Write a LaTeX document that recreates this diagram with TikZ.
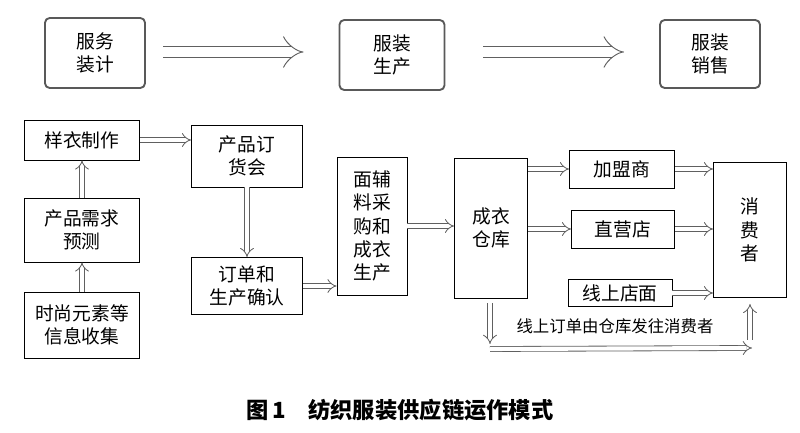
\documentclass[tikz,border=0pt]{standalone}
\usepackage{fontspec}
\setmainfont{Noto Sans CJK SC}
\usetikzlibrary{arrows,arrows.meta,calc}
\tikzset{
  box/.style={draw, line width=0.6pt, align=center, inner sep=0pt,
    font=\fontsize{16}{20}\selectfont},
  topbox/.style={draw=gray!70!black, line width=1.6pt, rounded corners=4pt,
    align=center, inner sep=0pt, font=\fontsize{16}{20}\selectfont},
  harrow/.style={-{Implies}, draw=gray!75!black, line width=0.7pt,
    double=white, double distance=3.5pt},
  bigarrow/.style={-{Implies}, draw=gray!75!black, line width=0.8pt,
    double=white, double distance=9pt}
}
\begin{document}
\begin{tikzpicture}[x=0.03cm,y=-0.03cm]
  \useasboundingbox (0,0) rectangle (800,433);
  % top row
  \node[topbox, minimum width=3cm, minimum height=2.1cm] (sj) at (95,53) {服务\\装计};
  \node[topbox, minimum width=3.15cm, minimum height=2.1cm] (sc) at (392,55) {服装\\生产};
  \node[topbox, minimum width=3cm, minimum height=2.04cm] (xs) at (710,54) {服装\\销售};
  \coordinate (a1) at (163,52);
  \coordinate (a2) at (483,52);
  \draw[bigarrow] (a1) -- ($(sc.west)+(-35,-3)$);
  \draw[bigarrow] (a2) -- ($(xs.west)+(-35,-2)$);
  % left column
  \node[box, minimum width=3.45cm, minimum height=1.2cm] (yy) at (82,140) {样衣制作};
  \node[box, minimum width=3.45cm, minimum height=1.92cm] (xq) at (82,230) {产品需求\\预测};
  \node[box, minimum width=3.45cm, minimum height=1.98cm] (ss) at (82,325) {时尚元素等\\信息收集};
  % middle
  \node[box, minimum width=3.33cm, minimum height=1.86cm] (dh) at (247,156) {产品订\\货会};
  \node[box, minimum width=3.33cm, minimum height=1.71cm] (dd) at (247,286) {订单和\\生产确认};
  \node[box, minimum width=2.1cm, minimum height=4.14cm] (mf) at (372,226) {面辅\\料采\\购和\\成衣\\生产};
  \node[box, minimum width=2.19cm, minimum height=4.2cm] (ck) at (491,228) {成衣\\仓库};
  % right
  \node[box, minimum width=3.15cm, minimum height=1.14cm] (jm) at (622,169) {加盟商};
  \node[box, minimum width=3.09cm, minimum height=1.14cm] (zy) at (623,229) {直营店};
  \node[box, minimum width=3.12cm, minimum height=0.81cm] (xd) at (620,293) {线上店面};
  \node[box, minimum width=2.19cm, minimum height=4.05cm] (xf) at (750,230) {消\\费\\者};
  % connectors
  \draw[harrow] (ss.north) -- (xq.south);
  \draw[harrow] (xq.north) -- (yy.south);
  \draw[harrow] (yy.east) -- (yy.east -| dh.west);
  \draw[harrow] (dh.south) -- (dd.north);
  \draw[harrow] (dd.east) -- (dd.east -| mf.west);
  \draw[harrow] (mf.east) -- (mf.east -| ck.west);
  \draw[harrow] (ck.east |- jm) -- (jm.west);
  \draw[harrow] (ck.east |- zy) -- (zy.west);
  \draw[harrow] (jm.east) -- (jm -| xf.west);
  \draw[harrow] (zy.east) -- (zy -| xf.west);
  \draw[harrow] (xd.east) -- (xd -| xf.west);
  \coordinate (d1) at (490,344);
  \coordinate (d2) at (752,348);
  \draw[harrow] (490,303) -- (d1);
  \draw[harrow] (490,349) -- (d2);
  \draw[harrow] (750,340) -- ($(xf.south)+(0,6)$);
  \node[font=\fontsize{14}{17}\selectfont] (xs1) at (615,326) {线上订单由仓库发往消费者};
  % caption
  \node[font=\fontsize{19}{22}\selectfont\bfseries] (cap) at (400,410) {图\,1\quad 纺织服装供应链运作模式};
\end{tikzpicture}
\end{document}
